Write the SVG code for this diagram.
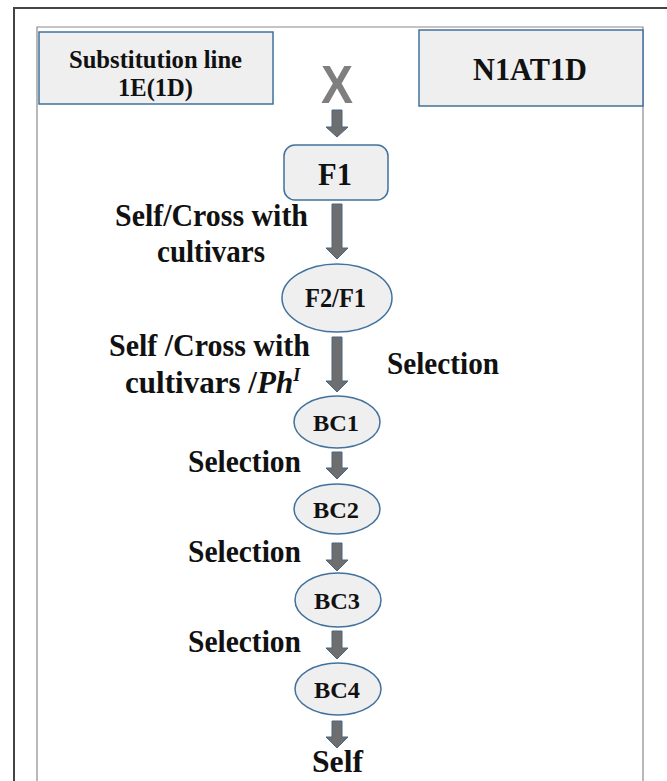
<svg xmlns="http://www.w3.org/2000/svg" width="667" height="781" viewBox="0 0 667 781">
<style>
.lbl{font-family:"Liberation Serif","Times New Roman",serif;font-weight:bold;fill:#111}
.box{fill:#efefef;stroke:#41719c;stroke-width:1.5}
.arr{fill:#6e6e6e;stroke:#4a6482;stroke-width:1}
</style>
<rect width="667" height="781" fill="#fff"/>
<g id="frame">
<path d="M14,781 V8 H667" fill="none" stroke="#444" stroke-width="2"/>
<path d="M37,781 V27 H643 V781" fill="none" stroke="#8a8a8a" stroke-width="1.2"/>
</g>
<g id="substitution">
<rect class="box" x="39" y="32" width="234" height="72"/>
<text class="lbl" x="69" y="68" font-size="25" textLength="173" lengthAdjust="spacingAndGlyphs">Substitution line</text>
<text class="lbl" x="118" y="96" font-size="25" textLength="75" lengthAdjust="spacingAndGlyphs">1E(1D)</text>
</g>
<g id="n1at1d">
<rect class="box" x="419" y="30" width="224" height="76"/>
<text class="lbl" x="473" y="80" font-size="32" textLength="114" lengthAdjust="spacingAndGlyphs">N1AT1D</text>
</g>
<g id="cross">
<text x="321" y="103" font-family="Liberation Sans, Arial, sans-serif" font-weight="bold" font-size="53" fill="#7f7f7f" textLength="32" lengthAdjust="spacingAndGlyphs">X</text>
</g>
<g id="connectors">
<path class="arr" d="M332,110 H342 V127 H348 L337,137 L326,127 H332 Z"/>
<path class="arr" d="M332,204 H342 V248 H348 L337,259 L326,248 H332 Z"/>
<path class="arr" d="M332,337 H342 V381 H348 L337,392 L326,381 H332 Z"/>
<path class="arr" d="M332,452 H342 V468 H348 L337,479 L326,468 H332 Z"/>
<path class="arr" d="M332,543 H342 V560 H348 L337,571 L326,560 H332 Z"/>
<path class="arr" d="M332,631 H342 V648 H348 L337,659 L326,648 H332 Z"/>
<path class="arr" d="M332,721 H342 V737 H348 L337,748 L326,737 H332 Z"/>
</g>
<g id="f1">
<rect class="box" x="284" y="145" width="104" height="55" rx="11"/>
<text class="lbl" x="318" y="185" font-size="31" textLength="34" lengthAdjust="spacingAndGlyphs">F1</text>
</g>
<g id="f2f1">
<ellipse class="box" cx="337" cy="298" rx="55" ry="34"/>
<text class="lbl" x="305" y="307" font-size="27" textLength="61" lengthAdjust="spacingAndGlyphs">F2/F1</text>
</g>
<g id="bc1">
<ellipse class="box" cx="337" cy="422" rx="43" ry="26"/>
<text class="lbl" x="313" y="431" font-size="24" textLength="46" lengthAdjust="spacingAndGlyphs">BC1</text>
</g>
<g id="bc2">
<ellipse class="box" cx="337" cy="509" rx="43" ry="25"/>
<text class="lbl" x="313" y="518" font-size="24" textLength="46" lengthAdjust="spacingAndGlyphs">BC2</text>
</g>
<g id="bc3">
<ellipse class="box" cx="338" cy="600" rx="43" ry="27"/>
<text class="lbl" x="314" y="609" font-size="24" textLength="46" lengthAdjust="spacingAndGlyphs">BC3</text>
</g>
<g id="bc4">
<ellipse class="box" cx="338" cy="689" rx="43" ry="26"/>
<text class="lbl" x="314" y="698" font-size="24" textLength="46" lengthAdjust="spacingAndGlyphs">BC4</text>
</g>
<g id="self">
<text class="lbl" x="312" y="772" font-size="32" textLength="51" lengthAdjust="spacingAndGlyphs">Self</text>
</g>
<g id="labels">
<text class="lbl" x="115" y="226" font-size="31" textLength="193" lengthAdjust="spacingAndGlyphs">Self/Cross with</text>
<text class="lbl" x="157" y="262" font-size="31" textLength="108" lengthAdjust="spacingAndGlyphs">cultivars</text>
<text class="lbl" x="109" y="356" font-size="31" textLength="201" lengthAdjust="spacingAndGlyphs">Self /Cross with</text>
<text class="lbl" x="125" y="393" font-size="31"><tspan textLength="132" lengthAdjust="spacingAndGlyphs">cultivars /</tspan><tspan font-style="italic">Ph</tspan><tspan font-style="italic" font-size="18" dy="-12">I</tspan></text>
<text class="lbl" x="387" y="374" font-size="32" textLength="112" lengthAdjust="spacingAndGlyphs">Selection</text>
<text class="lbl" x="188" y="472" font-size="32" textLength="113" lengthAdjust="spacingAndGlyphs">Selection</text>
<text class="lbl" x="188" y="562" font-size="32" textLength="113" lengthAdjust="spacingAndGlyphs">Selection</text>
<text class="lbl" x="188" y="652" font-size="32" textLength="113" lengthAdjust="spacingAndGlyphs">Selection</text>
</g>
</svg>
